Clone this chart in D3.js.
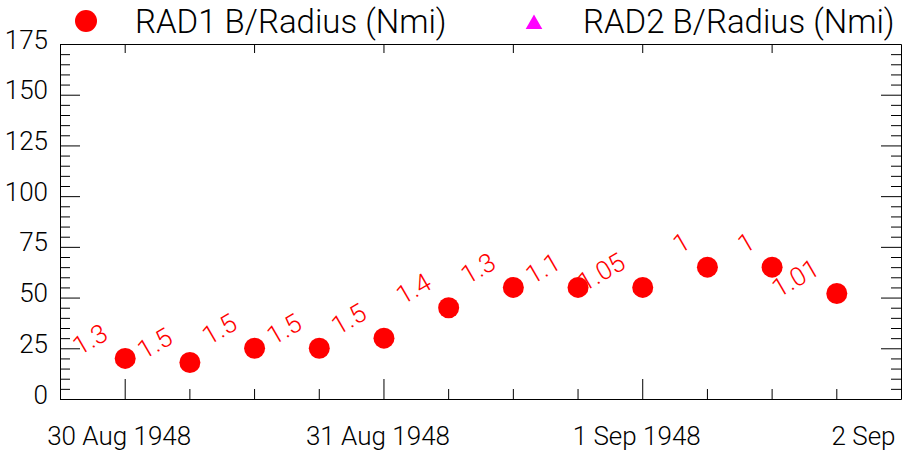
<!DOCTYPE html>
<html>
<head>
<meta charset="utf-8">
<script src="https://cdn.jsdelivr.net/npm/d3@7"></script>
<style>
  html, body { margin: 0; padding: 0; background: #fff; }
  svg { display: block; font-family: "Roboto", "Liberation Sans", sans-serif; font-weight: 300; }
</style>
</head>
<body>
<script>
// ---- data ----
const times = ["1948-08-30T00:00Z","1948-08-30T06:00Z","1948-08-30T12:00Z","1948-08-30T18:00Z",
               "1948-08-31T00:00Z","1948-08-31T06:00Z","1948-08-31T12:00Z","1948-08-31T18:00Z",
               "1948-09-01T00:00Z","1948-09-01T06:00Z","1948-09-01T12:00Z","1948-09-01T18:00Z"];
const rad1 = [20, 18, 25, 25, 30, 45, 55, 55, 55, 65, 65, 52];
const rad1Labels = ["1.3","1.5","1.5","1.5","1.5","1.4","1.3","1.1","1.05","1","1","1.01"];
const rad2 = [];
const seriesNames = ["RAD1 B/Radius (Nmi)", "RAD2 B/Radius (Nmi)"];
const yTicks = [0, 25, 50, 75, 100, 125, 150, 175];
const xDomain = ["1948-08-29T18:00Z", "1948-09-02T00:00Z"];
const xMajorTicks = ["1948-08-30T00:00Z","1948-08-31T00:00Z","1948-09-01T00:00Z","1948-09-02T00:00Z"];

// ---- setup ----
const W = 903, H = 456;
const svg = d3.select("body").append("svg").attr("width", W).attr("height", H);

const x = d3.scaleUtc().domain(xDomain.map(d => new Date(d))).range([60, 901]);
const y = d3.scaleLinear().domain([0, 175]).range([399, 44]);

const minorY = d3.range(0, 176, 5).filter(v => v % 25 !== 0);
const six = d3.utcHour.every(6).range(new Date(xDomain[0]), new Date(xDomain[1]))
  .filter(d => d.getUTCHours() !== 0);
const twelve = d3.utcHour.every(12).range(new Date("1948-08-30T00:00Z"), new Date(xDomain[1]));

function styleAxis(g) {
  g.selectAll("path, line").attr("stroke", "#000").attr("stroke-width", 1);
  g.selectAll("text").attr("fill", "#000").style("font-family", "Roboto, 'Liberation Sans', sans-serif").style("font-weight", 300);
}

// left axis
svg.append("g").attr("transform", "translate(60,0)")
  .call(d3.axisLeft(y).tickValues(yTicks).tickSize(-20).tickSizeOuter(0).tickPadding(12))
  .call(g => g.selectAll("text").attr("dy", "4px").style("font-size", "26px"))
  .call(styleAxis);
svg.append("g").attr("transform", "translate(60,0)")
  .call(d3.axisLeft(y).tickValues(minorY).tickSize(-10).tickFormat(""))
  .call(g => g.select(".domain").remove())
  .call(styleAxis);

// right axis
svg.append("g").attr("transform", "translate(901,0)")
  .call(d3.axisRight(y).tickValues(yTicks).tickSize(-20).tickSizeOuter(0).tickFormat(""))
  .call(styleAxis);
svg.append("g").attr("transform", "translate(901,0)")
  .call(d3.axisRight(y).tickValues(minorY).tickSize(-10).tickFormat(""))
  .call(g => g.select(".domain").remove())
  .call(styleAxis);

// bottom axis
svg.append("g").attr("transform", "translate(0,399)")
  .call(d3.axisBottom(x).tickValues(xMajorTicks.map(d => new Date(d))).tickSize(-20).tickSizeOuter(0)
        .tickFormat(d3.utcFormat("%-d %b %Y")))
  .call(g => g.selectAll("text").attr("y", 46).attr("dy", 0).attr("dx", -6).style("font-size", "26px"))
  .call(styleAxis);
svg.append("g").attr("transform", "translate(0,399)")
  .call(d3.axisBottom(x).tickValues(six).tickSize(-10).tickFormat(""))
  .call(g => g.select(".domain").remove())
  .call(styleAxis);

// top axis
svg.append("g").attr("transform", "translate(0,44)")
  .call(d3.axisTop(x).tickValues(twelve).tickSize(-9).tickSizeOuter(0).tickFormat(""))
  .call(styleAxis);

// ---- data marks ----
const pts = times.map((t, i) => ({ t: new Date(t), v: rad1[i], lab: rad1Labels[i] }));

svg.append("g").selectAll("circle").data(pts).join("circle")
  .attr("cx", d => x(d.t) + 0.5).attr("cy", d => y(d.v)).attr("r", 10.5).attr("fill", "#ff0000");

svg.append("g").selectAll("text").data(pts).join("text")
  .attr("transform", d => `translate(${x(d.t) - 15},${y(d.v) - 20}) rotate(-30)`)
  .attr("text-anchor", "end")
  .attr("fill", "#ff0000")
  .style("font-size", "26px")
  .text(d => d.lab);

// rad2 series (empty)
svg.append("g").selectAll("path").data(rad2).join("path")
  .attr("d", d3.symbol().type(d3.symbolTriangle).size(120))
  .attr("fill", "#ff00ff");

// ---- legend ----
const leg = svg.append("g");
leg.append("circle").attr("cx", 86).attr("cy", 21).attr("r", 11).attr("fill", "#ff0000");
leg.append("text").attr("x", 135).attr("y", 33).style("font-size", "33px").attr("fill", "#000").text(seriesNames[0]);
leg.append("path").attr("transform", "translate(534,24.2)")
  .attr("d", d3.symbol().type(d3.symbolTriangle).size(120)()).attr("fill", "#ff00ff");
leg.append("text").attr("x", 583).attr("y", 33).style("font-size", "33px").attr("fill", "#000").text(seriesNames[1]);
</script>
</body>
</html>
